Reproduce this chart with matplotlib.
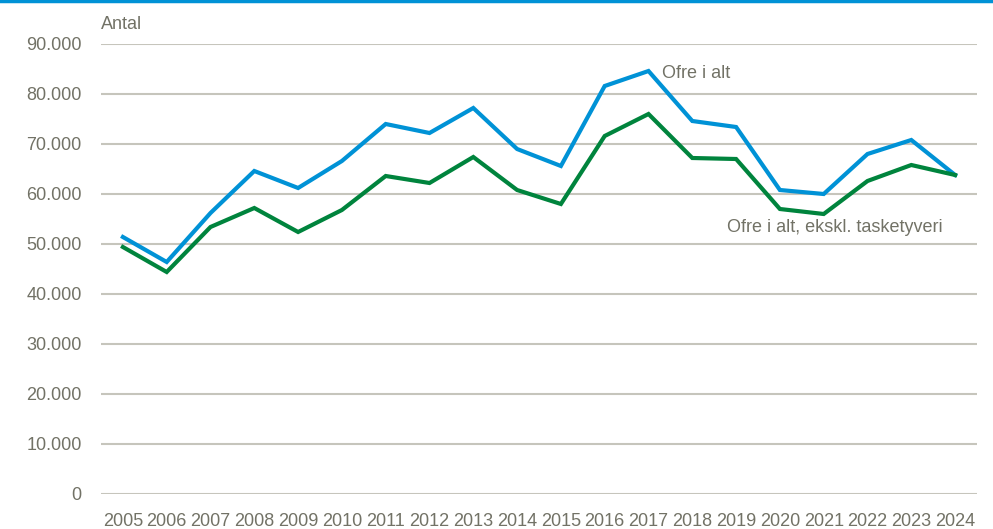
import matplotlib.pyplot as plt
from matplotlib.ticker import FuncFormatter

plt.rcParams['font.family'] = ['Liberation Sans', 'DejaVu Sans']

years = [str(y) for y in range(2005, 2025)]
ofre_i_alt = [51400, 46400, 56200, 64600, 61200, 66600, 74000, 72200, 77200, 69000,
              65600, 81600, 84600, 74600, 73400, 60800, 60000, 68000, 70800, 63800]
ofre_ekskl = [49400, 44400, 53400, 57200, 52400, 56800, 63600, 62200, 67400, 60800,
              58000, 71600, 76000, 67200, 67000, 57000, 56000, 62600, 65800, 63800]

text_col = '#727266'
grid_col = '#c6c5bc'

fig = plt.figure(figsize=(9.93, 5.29), dpi=100)
ax = fig.add_axes([101 / 993, 1 - 494 / 529, 876 / 993, 450 / 529])

x = range(len(years))
ax.plot(x, ofre_i_alt, color='#0092d6', lw=3, solid_joinstyle='miter', zorder=3)
ax.plot(x, ofre_ekskl, color='#00843d', lw=3, solid_joinstyle='miter', zorder=3)

ax.set_xlim(-0.5, len(years) - 0.5)
ax.set_ylim(0, 90000)
ax.set_yticks(range(0, 90001, 10000))
ax.yaxis.set_major_formatter(FuncFormatter(lambda v, p: f'{int(v):,}'.replace(',', '.')))
ax.set_xticks(list(x))
ax.set_xticklabels(years)
ax.grid(axis='y', color=grid_col, lw=1.5)
ax.set_axisbelow(True)
for s in ax.spines.values():
    s.set_visible(False)
ax.tick_params(length=0, colors=text_col, labelsize=13)
ax.tick_params(axis='y', pad=14)
ax.tick_params(axis='x', pad=14)

# labels
ax.text(0, 1.025, 'Antal', transform=ax.transAxes, color=text_col,
        fontsize=13, va='bottom', ha='left')
ax.text(12.3, 84000, 'Ofre i alt', color=text_col, fontsize=13, va='center')
ax.text(13.8, 53300, 'Ofre i alt, ekskl. tasketyveri', color=text_col, fontsize=13, va='center')

# top blue rule
fig.add_artist(plt.Line2D([0, 1], [1 - 1 / 529, 1 - 1 / 529], color='#0092d6', lw=2.5,
                          transform=fig.transFigure))

fig.savefig('out.png', dpi=100)
